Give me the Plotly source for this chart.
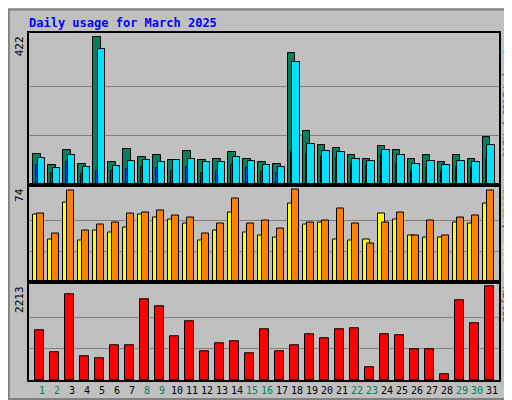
import plotly.graph_objects as go
from plotly.subplots import make_subplots

days = list(range(1, 32))
weekend = [1, 2, 8, 9, 15, 16, 22, 23, 29, 30]

hits = [86, 57, 100, 60, 422, 63, 103, 80, 83, 71, 97, 71, 74, 94, 74, 63, 60, 376, 154, 114, 105, 83, 74, 111, 100, 74, 83, 63, 83, 74, 137]
files = [77, 48, 83, 51, 387, 54, 66, 71, 63, 71, 74, 63, 63, 80, 68, 57, 51, 351, 117, 97, 94, 74, 68, 100, 83, 60, 66, 57, 68, 63, 114]
pages = [57, 34, 63, 29, 40, 40, 43, 51, 46, 40, 51, 34, 40, 57, 46, 37, 34, 94, 86, 80, 77, 60, 54, 83, 60, 40, 46, 37, 51, 46, 74]
visits = [55, 39, 73, 41, 46, 48, 55, 56, 57, 53, 52, 39, 47, 67, 47, 49, 43, 74, 48, 49, 59, 47, 31, 48, 56, 37, 49, 37, 52, 53, 73]
sites = [54, 34, 64, 33, 41, 40, 44, 54, 52, 50, 47, 33, 41, 56, 40, 37, 36, 63, 46, 48, 34, 33, 34, 55, 50, 37, 36, 36, 48, 47, 63]
kbytes = [1178, 650, 2020, 553, 505, 818, 818, 1900, 1756, 1034, 1395, 673, 866, 914, 625, 1202, 673, 818, 1082, 986, 1202, 1226, 313, 1082, 1058, 721, 721, 144, 1876, 1347, 2213]

fig = make_subplots(rows=3, cols=1, shared_xaxes=True, vertical_spacing=0.0,
                    row_heights=[155, 100, 100])

line = dict(color="black", width=1)
fig.add_trace(go.Bar(x=days, y=hits, offset=-0.6, width=0.5, marker=dict(color="#00805c", line=line)), row=1, col=1)
fig.add_trace(go.Bar(x=days, y=pages, offset=-0.4, width=0.12, marker=dict(color="#0040ff", line=line)), row=1, col=1)
fig.add_trace(go.Bar(x=days, y=files, offset=-0.3, width=0.5, marker=dict(color="#00e0ff", line=line)), row=1, col=1)
fig.add_trace(go.Bar(x=days, y=sites, offset=-0.6, width=0.5, marker=dict(color="#ffff00", line=line)), row=2, col=1)
fig.add_trace(go.Bar(x=days, y=visits, offset=-0.35, width=0.5, marker=dict(color="#ff8000", line=line)), row=2, col=1)
fig.add_trace(go.Bar(x=days, y=kbytes, offset=-0.45, width=0.6, marker=dict(color="#ff0000", line=line)), row=3, col=1)

font = "DejaVu Sans Mono"
ticktext = [f'<span style="color:{"#00805c" if d in weekend else "black"}">{d}</span>' for d in days]
for r in (1, 2, 3):
    fig.update_xaxes(range=[0.13, 31.47], showline=True, linecolor="black", linewidth=2, mirror=True,
                     showgrid=False, tickvals=days, ticktext=ticktext, ticks="", tickangle=0,
                     tickfont=dict(family=font, size=10), row=r, col=1)

tops = [max(hits), max(visits), max(kbytes)]
for r, t, pad in zip((1, 2, 3), tops, (1.027, 1.055, 1.045)):
    fig.update_yaxes(range=[0, t * pad], tickvals=[t / 3, 2 * t / 3], showticklabels=False,
                     gridcolor="#808080", gridwidth=1, zeroline=False, showline=True,
                     linecolor="black", linewidth=2, mirror=True, row=r, col=1)

ann = []
for text, y in [(str(max(hits)), 1.0), (str(max(visits)), 0.563), (str(max(kbytes)), 0.282)]:
    ann.append(dict(text=text, x=-0.002, y=y - 0.005, xref="paper", yref="paper", xanchor="right",
                    yanchor="top", textangle=-90, showarrow=False, font=dict(family=font, size=11, color="black")))
right = [
    ('<span style="color:#00e0ff">Pages</span> / <span style="color:#0040ff">Files</span> / <span style="color:#00805c">Hits</span>', 1.0),
    ('<span style="color:#ff8000">Sites</span> / <span style="color:#ffff00">Visits</span>', 0.563),
    ('<span style="color:#ff0000">KBytes</span>', 0.282),
]
for text, y in right:
    ann.append(dict(text=text, x=1.0, y=y - 0.005, xref="paper", yref="paper", xanchor="left",
                    yanchor="top", textangle=90, showarrow=False, font=dict(family=font, size=10)))
ann.append(dict(text="<b>Daily usage for March 2025</b>", x=-0.004, y=1.03, xref="paper", yref="paper",
                xanchor="left", yanchor="middle", showarrow=False,
                font=dict(family=font, size=12, color="#0000ff")))

fig.update_layout(width=512, height=400, margin=dict(l=21, r=21, t=25, b=20),
                  paper_bgcolor="#c0c0c0", plot_bgcolor="#c0c0c0", showlegend=False,
                  barmode="overlay", bargap=0, annotations=ann,
                  shapes=[dict(type="rect", xref="paper", yref="paper", x0=-0.043, x1=1.043,
                               y0=-0.055, y1=1.068, line=dict(color="#808080", width=2))])

fig.write_html("out.html")
